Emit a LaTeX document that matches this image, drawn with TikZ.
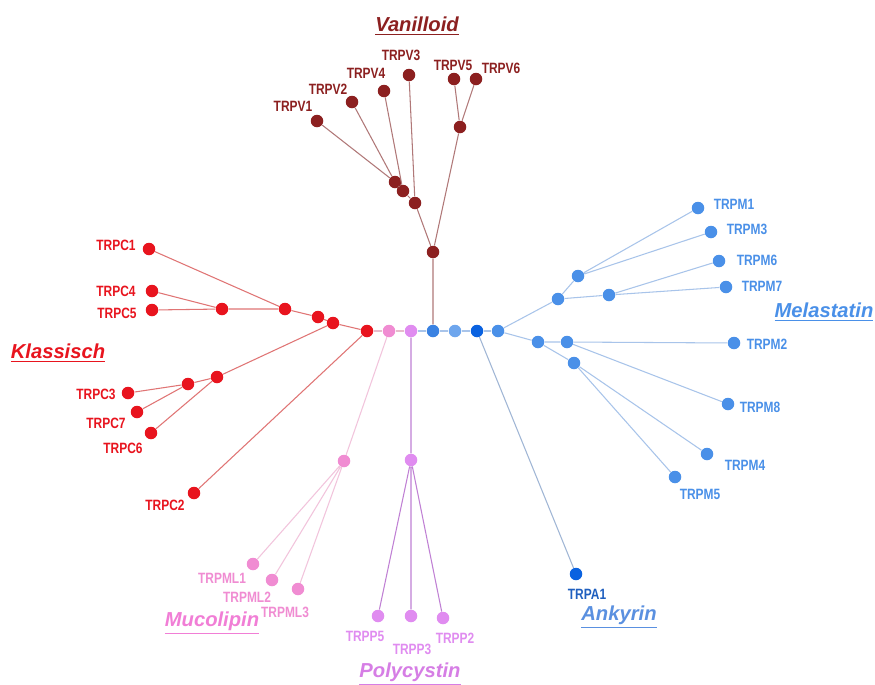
\documentclass[tikz,border=0pt]{standalone}
\usepackage{fontspec}
\setmainfont{Liberation Sans}
\newfontfamily\labfont[FakeStretch=0.8]{Liberation Sans}
\usetikzlibrary{positioning}
\definecolor{vanred}{HTML}{8C2020}
\definecolor{vanline}{HTML}{B07878}
\definecolor{klred}{HTML}{E8141E}
\definecolor{klline}{HTML}{E07474}
\definecolor{mupink}{HTML}{F08CD2}
\definecolor{muline}{HTML}{F2C4DC}
\definecolor{poviol}{HTML}{E08CF0}
\definecolor{poline}{HTML}{C080D4}
\definecolor{meblue}{HTML}{4A90E8}
\definecolor{meline}{HTML}{A8C4EA}
\definecolor{bbblue}{HTML}{3A82E2}
\definecolor{ankblue}{HTML}{0A62E0}
\definecolor{anklab}{HTML}{1F5FBF}
\definecolor{anktit}{HTML}{5A90E0}
\definecolor{bbone}{HTML}{E6BCCC}

\begin{document}
\begin{tikzpicture}[x=0.02cm,y=-0.02cm,
    dot/.style={circle,inner sep=0pt,minimum size=0.25cm,fill=#1},
    lab/.style={font=\labfont\bfseries\fontsize{8.5}{9}\selectfont,text=#1,inner sep=0pt},
    fam/.style={font=\bfseries\itshape\fontsize{11.5}{12}\selectfont,text=#1,inner sep=0pt},
    edge/.style={draw=#1,line width=0.6pt}]
  \useasboundingbox[fill=white] (0,0) rectangle (875,684);

  % backbone
  \node[dot=klred] (k0) at (367,331) {};
  \node[dot=mupink] (mu0) at (389,331) {};
  \node[dot=poviol] (p0) at (411,331) {};
  \node[dot=bbblue] (b1) at (433,331) {} ;
  \node[dot=meblue!80] (b2) at (455,331) {};
  \node[dot=ankblue] (b3) at (477,331) {};
  \node[dot=meblue] (b4) at (498,331) {};

  % Vanilloid
  \node[dot=vanred] (v1) at (317,121) {};
  \node[dot=vanred] (v2) at (352,102) {};
  \node[dot=vanred] (v4) at (384,91) {};
  \node[dot=vanred] (v3) at (409,75) {};
  \node[dot=vanred] (v5) at (454,79) {};
  \node[dot=vanred] (v6) at (476,79) {};
  \node[dot=vanred] (va) at (395,182) {};
  \node[dot=vanred] (vb) at (403,191) {};
  \node[dot=vanred] (vc) at (415,203) {};
  \node[dot=vanred] (vd) at (460,127) {};
  \node[dot=vanred] (vr) at (433,252) {};
  \node[lab=vanred] (v1l) at (293,106) {TRPV1};
  \node[lab=vanred] (v2l) at (328,89) {TRPV2};
  \node[lab=vanred] (v4l) at (366,73) {TRPV4};
  \node[lab=vanred] (v3l) at (401,55) {TRPV3};
  \node[lab=vanred] (v5l) at (453,65) {TRPV5};
  \node[lab=vanred] (v6l) at (501,68) {TRPV6};
  \node[fam=vanred] (vant) at (417,26) {\underline{Vanilloid}};

  % Klassisch
  \node[dot=klred] (c1) at (149,249) {};
  \node[dot=klred] (c4) at (152,291) {};
  \node[dot=klred] (c5) at (152,310) {};
  \node[dot=klred] (c45) at (222,309) {};
  \node[dot=klred] (c145) at (285,309) {};
  \node[dot=klred] (ca) at (318,317) {};
  \node[dot=klred] (cb) at (333,323) {};
  \node[dot=klred] (c3) at (128,393) {};
  \node[dot=klred] (c7) at (137,412) {};
  \node[dot=klred] (c6) at (151,433) {};
  \node[dot=klred] (c37) at (188,384) {};
  \node[dot=klred] (c367) at (217,377) {};
  \node[dot=klred] (c2) at (194,493) {};
  \node[lab=klred] (c1l) at (116,245) {TRPC1};
  \node[lab=klred] (c4l) at (116,291) {TRPC4};
  \node[lab=klred] (c5l) at (117,313) {TRPC5};
  \node[lab=klred] (c3l) at (96,394) {TRPC3};
  \node[lab=klred] (c7l) at (106,423) {TRPC7};
  \node[lab=klred] (c6l) at (123,448) {TRPC6};
  \node[lab=klred] (c2l) at (165,505) {TRPC2};
  \node[fam=klred] (klt) at (58,353) {\underline{Klassisch}};

  % Mucolipin
  \node[dot=mupink] (ml0) at (344,461) {};
  \node[dot=mupink] (ml1) at (253,564) {};
  \node[dot=mupink] (ml2) at (272,580) {};
  \node[dot=mupink] (ml3) at (298,589) {};
  \node[lab=mupink] (ml1l) at (222,578) {TRPML1};
  \node[lab=mupink] (ml2l) at (247,597) {TRPML2};
  \node[lab=mupink] (ml3l) at (285,612) {TRPML3};
  \node[fam=mupink!90!magenta] (mut) at (212,623) {\underline{Mucolipin}};

  % Polycystin
  \node[dot=poviol] (pp0) at (411,460) {};
  \node[dot=poviol] (pp5) at (378,616) {};
  \node[dot=poviol] (pp3) at (411,616) {};
  \node[dot=poviol] (pp2) at (443,618) {};
  \node[lab=poviol] (pp5l) at (365,636) {TRPP5};
  \node[lab=poviol] (pp3l) at (412,649) {TRPP3};
  \node[lab=poviol] (pp2l) at (455,638) {TRPP2};
  \node[fam=poviol!90!violet] (pot) at (410,674) {\underline{Polycystin}};

  % Ankyrin
  \node[dot=ankblue] (a1) at (576,574) {};
  \node[lab=anklab] (a1l) at (587,594) {TRPA1};
  \node[fam=anktit] (ankt) at (619,617) {\underline{Ankyrin}};

  % Melastatin
  \node[dot=meblue] (mup) at (558,299) {};
  \node[dot=meblue] (mdn) at (538,342) {};
  \node[dot=meblue] (m13) at (578,276) {};
  \node[dot=meblue] (m67) at (609,295) {};
  \node[dot=meblue] (m28) at (567,342) {};
  \node[dot=meblue] (m45) at (574,363) {};
  \node[dot=meblue] (m1) at (698,208) {};
  \node[dot=meblue] (m3) at (711,232) {};
  \node[dot=meblue] (m6) at (719,261) {};
  \node[dot=meblue] (m7) at (726,287) {};
  \node[dot=meblue] (m2) at (734,343) {};
  \node[dot=meblue] (m8) at (728,404) {};
  \node[dot=meblue] (m4) at (707,454) {};
  \node[dot=meblue] (m5) at (675,477) {};
  \node[lab=meblue] (m1l) at (734,204) {TRPM1};
  \node[lab=meblue] (m3l) at (747,229) {TRPM3};
  \node[lab=meblue] (m6l) at (757,260) {TRPM6};
  \node[lab=meblue] (m7l) at (762,286) {TRPM7};
  \node[lab=meblue] (m2l) at (767,344) {TRPM2};
  \node[lab=meblue] (m8l) at (760,407) {TRPM8};
  \node[lab=meblue] (m4l) at (745,465) {TRPM4};
  \node[lab=meblue] (m5l) at (700,494) {TRPM5};
  \node[fam=meblue] (met) at (824,312) {\underline{Melastatin}};

  % connectors
  \path[edge=bbone] (k0) -- (mu0) -- (p0);
  \path[edge=meline] (p0) -- (b1) -- (b2) -- (b3) -- (b4);
  \path[edge=vanline] (v1) -- (va) (v2) -- (va) (va) -- (vb) (v4) -- (vb)
    (vb) -- (vc) (v3) -- (vc) (vc) -- (vr) (v5) -- (vd) (v6) -- (vd)
    (vd) -- (vr) (vr) -- (b1);
  \path[edge=klline] (c1) -- (c145) (c4) -- (c45) (c5) -- (c45) (c45) -- (c145)
    (c145) -- (ca) (ca) -- (cb) (cb) -- (k0) (c3) -- (c37) (c7) -- (c37)
    (c37) -- (c367) (c6) -- (c367) (c367) -- (cb) (c2) -- (k0);
  \path[edge=muline] (mu0) -- (ml0) (ml0) -- (ml1) (ml0) -- (ml2) (ml0) -- (ml3);
  \path[edge=poline] (p0) -- (pp0) (pp0) -- (pp5) (pp0) -- (pp3) (pp0) -- (pp2);
  \path[edge=meline!80!gray] (b3) -- (a1);
  \path[edge=meline] (b4) -- (mup) (b4) -- (mdn) (mup) -- (m13) (m13) -- (m1)
    (m13) -- (m3) (mup) -- (m67) (m67) -- (m6) (m67) -- (m7) (mdn) -- (m28)
    (m28) -- (m2) (m28) -- (m8) (mdn) -- (m45) (m45) -- (m4) (m45) -- (m5);
\end{tikzpicture}
\end{document}
